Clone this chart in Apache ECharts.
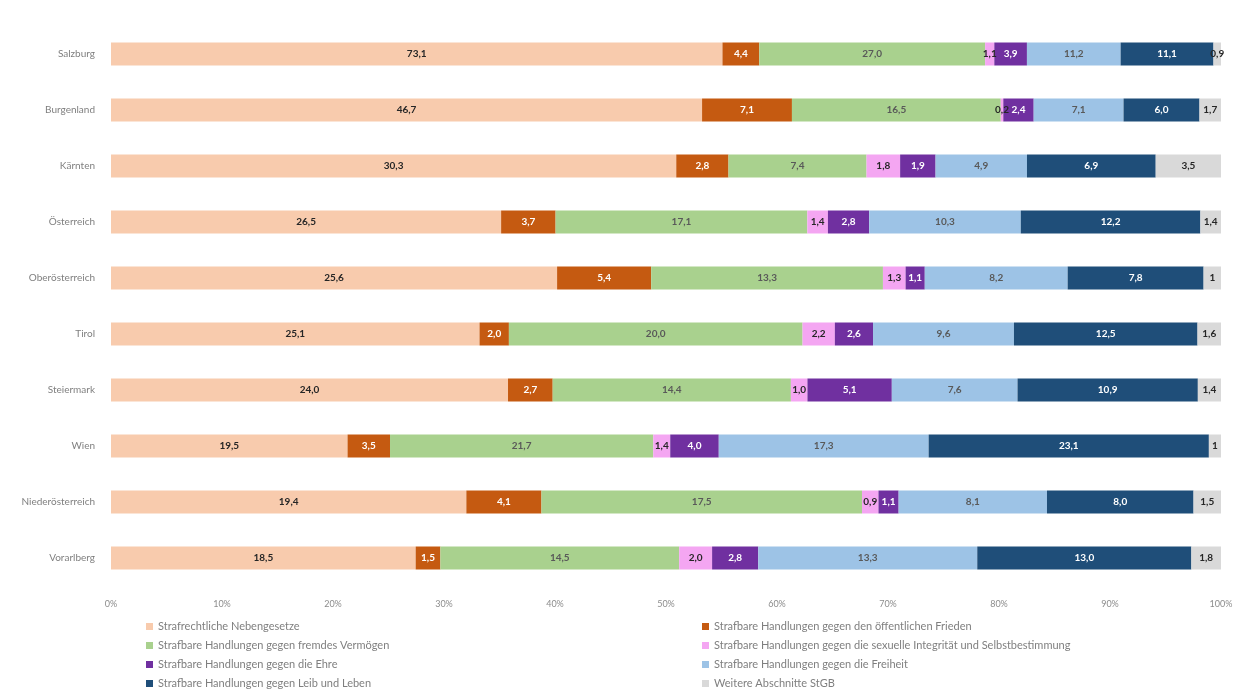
<!DOCTYPE html>
<html>
<head>
<meta charset="utf-8">
<script src="https://cdn.jsdelivr.net/npm/echarts@6/dist/echarts.min.js"></script>
<style>
html, body { margin: 0; padding: 0; background: #fff; }
#chart { width: 1247px; height: 697px; }
</style>
</head>
<body>
<div id="chart"></div>
<script>
// Bundesländer, von oben nach unten
const regions = ['Salzburg', 'Burgenland', 'Kärnten', 'Österreich', 'Oberösterreich', 'Tirol', 'Steiermark', 'Wien', 'Niederösterreich', 'Vorarlberg'];

// Werte je Deliktgruppe (Reihenfolge wie regions)
const nebengesetze = [73.1, 46.7, 30.3, 26.5, 25.6, 25.1, 24.0, 19.5, 19.4, 18.5];
const frieden      = [4.4, 7.1, 2.8, 3.7, 5.4, 2.0, 2.7, 3.5, 4.1, 1.5];
const vermoegen    = [27.0, 16.5, 7.4, 17.1, 13.3, 20.0, 14.4, 21.7, 17.5, 14.5];
const sexuell      = [1.1, 0.2, 1.8, 1.4, 1.3, 2.2, 1.0, 1.4, 0.9, 2.0];
const ehre         = [3.9, 2.4, 1.9, 2.8, 1.1, 2.6, 5.1, 4.0, 1.1, 2.8];
const freiheit     = [11.2, 7.1, 4.9, 10.3, 8.2, 9.6, 7.6, 17.3, 8.1, 13.3];
const leib         = [11.1, 6.0, 6.9, 12.2, 7.8, 12.5, 10.9, 23.1, 8.0, 13.0];
const weitere      = [0.9, 1.7, 3.5, 1.4, 1, 1.6, 1.4, 1, 1.5, 1.8];

const xTicks = [0, 10, 20, 30, 40, 50, 60, 70, 80, 90, 100];

const seriesDefs = [
	{ name: 'Strafrechtliche Nebengesetze', data: nebengesetze, color: '#F8CBAD', label: '#262626', plain: false },
	{ name: 'Strafbare Handlungen gegen den öffentlichen Frieden', data: frieden, color: '#C55A11', label: '#ffffff', plain: false },
	{ name: 'Strafbare Handlungen gegen fremdes Vermögen', data: vermoegen, color: '#A9D18E', label: '#595959', plain: false },
	{ name: 'Strafbare Handlungen gegen die sexuelle Integrität und Selbstbestimmung', data: sexuell, color: '#F4A6F2', label: '#262626', plain: false },
	{ name: 'Strafbare Handlungen gegen die Ehre', data: ehre, color: '#7030A0', label: '#ffffff', plain: false },
	{ name: 'Strafbare Handlungen gegen die Freiheit', data: freiheit, color: '#9DC3E6', label: '#595959', plain: false },
	{ name: 'Strafbare Handlungen gegen Leib und Leben', data: leib, color: '#1F4E79', label: '#ffffff', plain: false },
	{ name: 'Weitere Abschnitte StGB', data: weitere, color: '#D9D9D9', label: '#262626', plain: true }
];

// Summen je Zeile für 100%-Stapel
const totals = regions.map((r, i) => seriesDefs.reduce((s, d) => s + d.data[i], 0));

function fmt(v, plain) {
	const s = plain ? String(v) : v.toFixed(1);
	return s.replace('.', ',');
}

const chart = echarts.init(document.getElementById('chart'));

const legendBase = {
	orient: 'vertical', top: 620, height: 90, padding: 0,
	itemWidth: 7, itemHeight: 7, itemGap: 6, icon: 'rect',
	textStyle: { fontSize: 11, lineHeight: 13, color: '#7f7f7f', fontFamily: 'Lato' }
};

const option = {
	backgroundColor: '#ffffff',
	textStyle: { fontFamily: 'Lato' },
	grid: { left: 111, right: 26, top: 26, height: 560 },
	legend: [
		Object.assign({}, legendBase, {
			left: 146,
			data: [seriesDefs[0].name, seriesDefs[2].name, seriesDefs[4].name, seriesDefs[6].name]
		}),
		Object.assign({}, legendBase, {
			left: 702,
			data: [seriesDefs[1].name, seriesDefs[3].name, seriesDefs[5].name, seriesDefs[7].name]
		})
	],
	xAxis: {
		type: 'value',
		min: 0,
		max: 100,
		interval: 10,
		axisLine: { show: false },
		axisTick: { show: false },
		splitLine: { show: false },
		axisLabel: {
			margin: 14,
			fontSize: 9,
			color: '#8c8c8c',
			formatter: v => (xTicks.indexOf(v) >= 0 ? v + '%' : '')
		}
	},
	yAxis: {
		type: 'category',
		inverse: true,
		data: regions,
		axisLine: { show: false },
		axisTick: { show: false },
		axisLabel: { margin: 16, fontSize: 10, color: '#7f7f7f' }
	},
	series: seriesDefs.map(d => ({
		name: d.name,
		type: 'bar',
		stack: 'total',
		barWidth: 23,
		itemStyle: { color: d.color },
		label: {
			show: true,
			position: 'inside',
			fontSize: 10,
			fontWeight: 'bold',
			color: d.label,
			formatter: p => fmt(d.data[p.dataIndex], d.plain)
		},
		data: d.data.map((v, i) => v / totals[i] * 100)
	}))
};

chart.setOption(option);
</script>
</body>
</html>
